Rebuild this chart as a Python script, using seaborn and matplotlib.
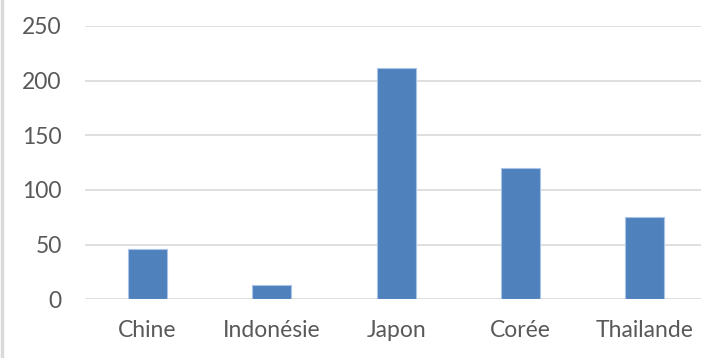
import matplotlib
matplotlib.use("Agg")
import matplotlib.pyplot as plt
import seaborn as sns
import pandas as pd
from matplotlib.lines import Line2D

categories = ["Chine", "Indonésie", "Japon", "Corée", "Thailande"]
values = [46, 13, 212, 120, 75]
yticks = [0, 50, 100, 150, 200, 250]

sns.set_theme(style="white")
plt.rcParams['font.family'] = ['Lato', 'DejaVu Sans']

df = pd.DataFrame({"pays": categories, "valeur": values})

fig = plt.figure(figsize=(7.01, 3.58), dpi=100)
ax = fig.add_axes([85.3 / 701, (358 - 299.3) / 358, (707 - 85.3) / 701, (299.3 - 26) / 358])

sns.barplot(data=df, x="pays", y="valeur", color="#4f81bd", width=0.315,
            edgecolor="#a9c4e6", linewidth=0.8, saturation=1, ax=ax)

ax.set_ylim(0, 250)
ax.set_xlim(-0.5, len(categories) - 0.5)
ax.set_yticks(yticks)
ax.set_yticklabels([str(t) for t in yticks])
ax.grid(axis="y", color="#d9d9d9", linewidth=1.2)
ax.set_axisbelow(True)
for s in ax.spines.values():
    s.set_visible(False)
ax.set_xlabel("")
ax.set_ylabel("")
ax.tick_params(axis="both", length=0, colors="#595959", labelsize=16.5)
ax.tick_params(axis="y", pad=17)
ax.tick_params(axis="x", pad=15)

fig.add_artist(Line2D([1.5 / 701, 1.5 / 701], [0, 1], transform=fig.transFigure,
                      color="#d9d9d9", linewidth=2.5))

fig.savefig("out.png", dpi=100)
